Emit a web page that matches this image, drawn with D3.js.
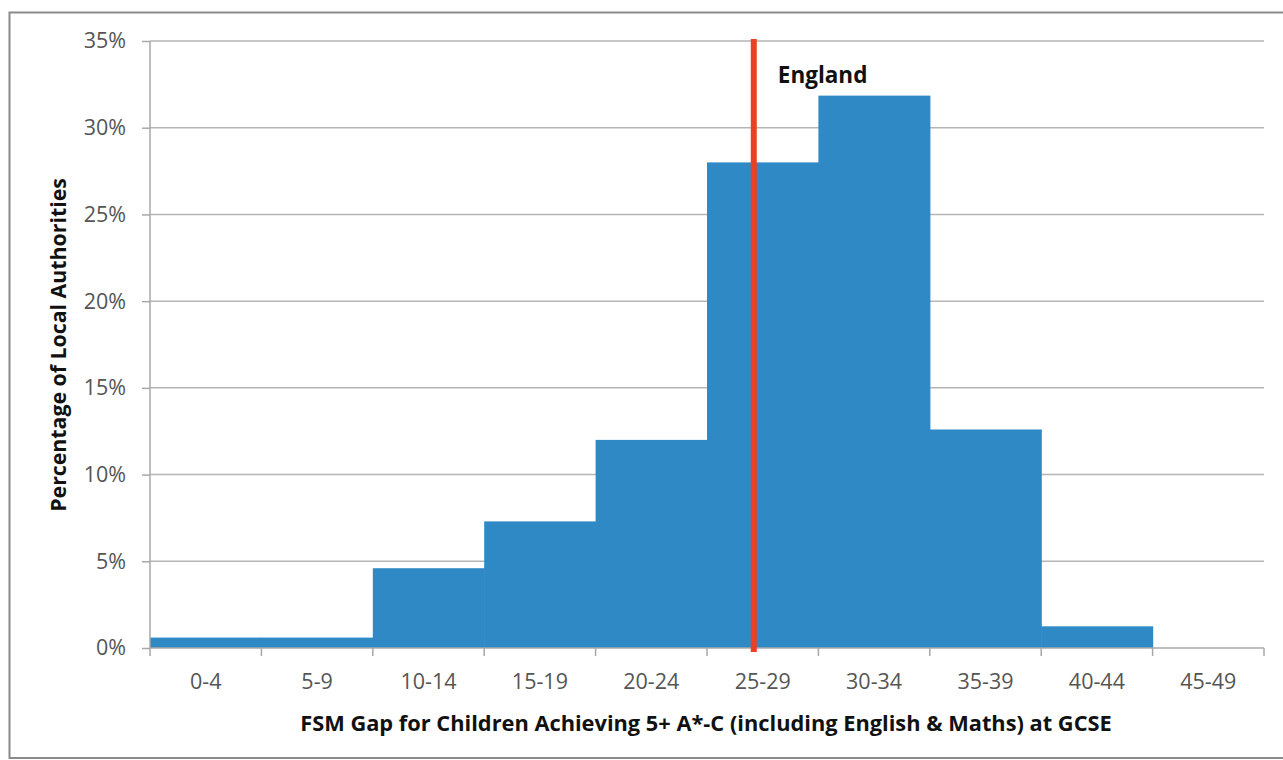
<!DOCTYPE html>
<html>
<head>
<meta charset="utf-8">
<script src="https://cdn.jsdelivr.net/npm/d3@7"></script>
<style>
html,body{margin:0;padding:0;background:#fff;}
svg{display:block;}
text{font-family:"Open Sans","Noto Sans",sans-serif;}
</style>
</head>
<body>
<svg id="chart" width="1283" height="760"></svg>
<script>
const categories = ["0-4","5-9","10-14","15-19","20-24","25-29","30-34","35-39","40-44","45-49"];
const percentages = [0.6,0.6,4.6,7.3,12.0,28.0,31.85,12.6,1.25,0];
const yTicks = [0,5,10,15,20,25,30,35];
const englandGap = 27.1;
const englandLabel = "England";
const xTitle = "FSM Gap for Children Achieving 5+ A*-C (including English & Maths) at GCSE";
const yTitle = "Percentage of Local Authorities";

(function(){
const svg = d3.select("#chart");
const pLeft = 150, pRight = 1264, pTop = 41, pBottom = 648;

// outer frame
svg.append("rect").attr("x",9.5).attr("y",12.5).attr("width",1290).attr("height",745.5)
  .attr("fill","none").attr("stroke","#8a8a8a").attr("stroke-width",2);

const x = d3.scaleBand().domain(categories).range([pLeft,pRight]).paddingInner(0).paddingOuter(0);
const y = d3.scaleLinear().domain([0,35]).range([pBottom,pTop]);
const xv = d3.scaleLinear().domain([0,50]).range([pLeft,pRight]);

// gridlines
svg.append("g").selectAll("line").data(yTicks.filter(d=>d>0)).join("line")
  .attr("x1",pLeft).attr("x2",pRight)
  .attr("y1",d=>y(d)).attr("y2",d=>y(d))
  .attr("stroke","#b5b5b5").attr("stroke-width",1.5);

// bars
svg.append("g").selectAll("rect").data(categories).join("rect")
  .attr("x",d=>x(d)).attr("width",x.bandwidth()+0.6)
  .attr("y",(d,i)=>y(percentages[i]))
  .attr("height",(d,i)=>pBottom-y(percentages[i]))
  .attr("fill","#2f89c5");

// y axis
const yAxis = d3.axisLeft(y).tickValues(yTicks).tickFormat(d=>d+"%").tickSize(8).tickPadding(16);
const gy = svg.append("g").attr("transform",`translate(${pLeft},0)`).call(yAxis);
gy.select(".domain").attr("stroke","#a8a8a8").attr("stroke-width",1.5).attr("d",`M0,${pTop}V${pBottom}`);
gy.selectAll(".tick line").attr("stroke","#a8a8a8").attr("stroke-width",1.5);
gy.selectAll(".tick text").attr("fill","#555").style("font-size","21.5px");

// x axis
const xAxis = d3.axisBottom(x).tickSize(0).tickPadding(26);
const gx = svg.append("g").attr("transform",`translate(0,${pBottom})`).call(xAxis);
gx.select(".domain").attr("stroke","#a8a8a8").attr("stroke-width",1.5).attr("d",`M${pLeft},0H${pRight}`);
gx.selectAll(".tick text").attr("fill","#555").style("font-size","21.5px");
// boundary ticks
const bounds = categories.map(c=>x(c)).concat([pRight]);
svg.append("g").selectAll("line").data(bounds).join("line")
  .attr("x1",d=>d).attr("x2",d=>d).attr("y1",pBottom).attr("y2",pBottom+8)
  .attr("stroke","#a8a8a8").attr("stroke-width",1.5);

// England line
svg.append("line").attr("x1",xv(englandGap)).attr("x2",xv(englandGap))
  .attr("y1",pTop-2).attr("y2",pBottom+4)
  .attr("stroke","#ea4125").attr("stroke-width",6);
svg.append("text").attr("x",xv(englandGap)+24).attr("y",83)
  .attr("fill","#111").style("font-size","22.5px").style("font-weight","bold").text(englandLabel);

// titles
svg.append("text").attr("x",(pLeft+pRight)/2 - 1).attr("y",731).attr("text-anchor","middle")
  .attr("fill","#111").style("font-size","21.8px").style("font-weight","bold").text(xTitle);
svg.append("text").attr("transform",`translate(66,345) rotate(-90)`).attr("text-anchor","middle")
  .attr("fill","#111").style("font-size","21.3px").style("font-weight","bold").text(yTitle);
})();
</script>
</body>
</html>
